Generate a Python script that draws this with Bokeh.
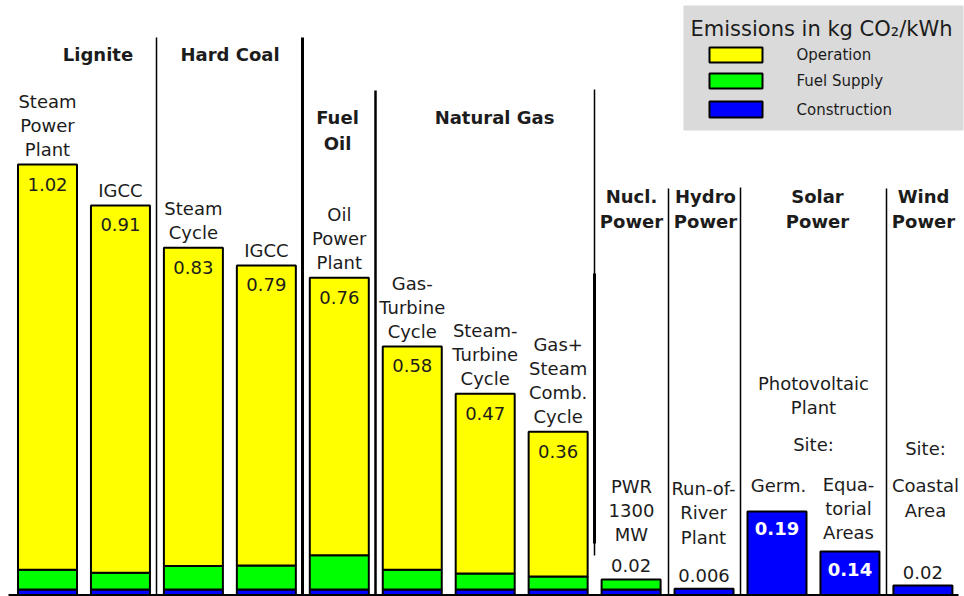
from bokeh.plotting import figure
from bokeh.models import Range1d, ColumnDataSource
from bokeh.embed import file_html
from bokeh.resources import INLINE
from bokeh.core.properties import value

# ---------------- data ----------------
plant_labels = ["Steam\nPower\nPlant", "IGCC", "Steam\nCycle", "IGCC", "Oil\nPower\nPlant",
                "Gas-\nTurbine\nCycle", "Steam-\nTurbine\nCycle", "Gas+\nSteam\nComb.\nCycle",
                "PWR\n1300\nMW", "Run-of-\nRiver\nPlant", "Germ.", "Equa-\ntorial\nAreas", "Coastal\nArea"]
total_labels = ["1.02", "0.91", "0.83", "0.79", "0.76", "0.58", "0.47", "0.36",
                "0.02", "0.006", "0.19", "0.14", "0.02"]
construction = [0.013, 0.013, 0.013, 0.013, 0.013, 0.013, 0.013, 0.013,
                0.013, 0.015, 0.198, 0.103, 0.0225]
fuel_supply = [0.047, 0.040, 0.056, 0.057, 0.081, 0.047, 0.038, 0.031,
               0.024, 0.0, 0.0, 0.0, 0.0]
operation = [0.960, 0.870, 0.754, 0.711, 0.658, 0.529, 0.426, 0.343,
             0.0, 0.0, 0.0, 0.0, 0.0]
group_labels = ["Lignite", "Hard Coal", "Fuel\nOil", "Natural Gas",
                "Nucl.\nPower", "Hydro\nPower", "Solar\nPower", "Wind\nPower"]
series_names = ["Operation", "Fuel Supply", "Construction"]
legend_title = "Emissions in kg CO\u2082/kWh"

# ---------------- layout helpers ----------------
BASE = 594.5      # reference pixel row of the zero line
SCALE = 422.0     # reference pixels per kg/kWh
def Y(py):
    return (BASE - py) / SCALE
def D(px):
    return px / SCALE

FONT = value("DejaVu Sans")
TXT = "#1c1c1c"
LH = 1.15
colors = {"Operation": "#ffff00", "Fuel Supply": "#00ff00", "Construction": "#0000ff"}

n = len(total_labels)
xs = [47 + 72.95 * i for i in range(n)]

p = figure(width=964, height=596, x_range=Range1d(0, 964), y_range=Range1d(Y(596), Y(0)),
           output_backend="svg", toolbar_location=None, min_border=0,
           x_axis_location=None, y_axis_location=None)
p.grid.visible = False
p.outline_line_color = None
p.background_fill_color = "white"

# ---------------- stacked bars ----------------
segs = {"x": [], "bottom": [], "top": [], "color": []}
tops = []
for i in range(n):
    b = 0.0
    for name, vals in (("Construction", construction), ("Fuel Supply", fuel_supply), ("Operation", operation)):
        v = vals[i]
        if v > 0:
            segs["x"].append(xs[i]); segs["bottom"].append(b); segs["top"].append(b + v)
            segs["color"].append(colors[name])
            b += v
    tops.append(b)
p.vbar(x="x", bottom="bottom", top="top", width=59, fill_color="color",
       line_color="black", line_width=2, source=ColumnDataSource(segs))

# baseline
p.segment(x0=[8], y0=[0], x1=[958], y1=[0], line_color="black", line_width=2)

# group separators
sep_x = [156, 302, 375, 594, 668, 740, 886]
sep_top = [37, 37, 90, 89, 188, 187, 188]
sep_bot = [594.5, 594.5, 594.5, 555, 594.5, 594.5, 594.5]
sep_w = [1.5, 3, 2.5, 1.5, 1.5, 1.5, 1.5]
for sx, st, sb, sw in zip(sep_x, sep_top, sep_bot, sep_w):
    p.segment(x0=[sx], y0=[Y(st)], x1=[sx], y1=[Y(sb)], line_color="black", line_width=sw)
p.segment(x0=[594], y0=[Y(273)], x1=[594], y1=[Y(543)], line_color="black", line_width=3)

# group headers
hx = [97.5, 229.5, 337, 494, 631, 705, 817, 923]
hy = [54, 54, 130, 117, 208.5, 208.5, 208.5, 208.5]
p.text(x=hx, y=[Y(v) for v in hy], text=group_labels, text_font=FONT, text_font_size="18px",
       text_font_style="bold", text_color=TXT, text_align="center", text_baseline="middle",
       text_line_height=1.2)

# plant labels above fossil bars
fx, fy, ft = [], [], []
for i in range(8):
    nl = plant_labels[i].count("\n") + 1
    fx.append(xs[i]); ft.append(plant_labels[i])
    fy.append(tops[i] + D(15 + (nl - 1) * 12))
p.text(x=fx, y=fy, text=ft, text_font=FONT, text_font_size="18px", text_color=TXT,
       text_align="center", text_baseline="middle", text_line_height=LH)

# plant labels for the other technologies (fixed slots)
ox = [631, 703, 778, 848, 925]
oy = [510, 512.5, 485, 508, 497.5]
p.text(x=ox, y=[Y(v) for v in oy], text=plant_labels[8:], text_font=FONT, text_font_size="18px",
       text_color=TXT, text_align="center", text_baseline="middle", text_line_height=LH)
p.text(x=[813, 813, 925], y=[Y(395), Y(444), Y(448)],
       text=["Photovoltaic\nPlant", "Site:", "Site:"], text_font=FONT, text_font_size="18px",
       text_color=TXT, text_align="center", text_baseline="middle", text_line_height=LH)

# value labels
in_idx = list(range(8))
p.text(x=[xs[i] for i in in_idx], y=[tops[i] - D(19.5) for i in in_idx],
       text=[total_labels[i] for i in in_idx], text_font=FONT, text_font_size="18px",
       text_color=TXT, text_align="center", text_baseline="middle")
w_idx = [10, 11]
p.text(x=[xs[i] for i in w_idx], y=[tops[i] - D(17.5) for i in w_idx],
       text=[total_labels[i] for i in w_idx], text_font=FONT, text_font_size="18px",
       text_font_style="bold", text_color="white", text_align="center", text_baseline="middle")
a_idx = [8, 9, 12]
p.text(x=[xs[i] for i in a_idx], y=[tops[i] + D(13.5) for i in a_idx],
       text=[total_labels[i] for i in a_idx], text_font=FONT, text_font_size="18px",
       text_color=TXT, text_align="center", text_baseline="middle")

# legend box
p.quad(left=[683], right=[963], top=[Y(5)], bottom=[Y(130)], fill_color="#dadada", line_color=None)
p.text(x=[821], y=[Y(28)], text=[legend_title], text_font=FONT, text_font_size="21px",
       text_color=TXT, text_align="center", text_baseline="middle")
sw_top = [47, 73, 101]
sw_bot = [62, 88, 117]
p.quad(left=[709] * 3, right=[762] * 3, top=[Y(v) for v in sw_top], bottom=[Y(v) for v in sw_bot],
       fill_color=[colors[s] for s in series_names], line_color="black", line_width=2)
p.text(x=[796] * 3, y=[Y((a + b) / 2) for a, b in zip(sw_top, sw_bot)], text=series_names,
       text_font=FONT, text_font_size="15px", text_color=TXT, text_align="left",
       text_baseline="middle")

open("out.html", "w").write(file_html(p, INLINE))
